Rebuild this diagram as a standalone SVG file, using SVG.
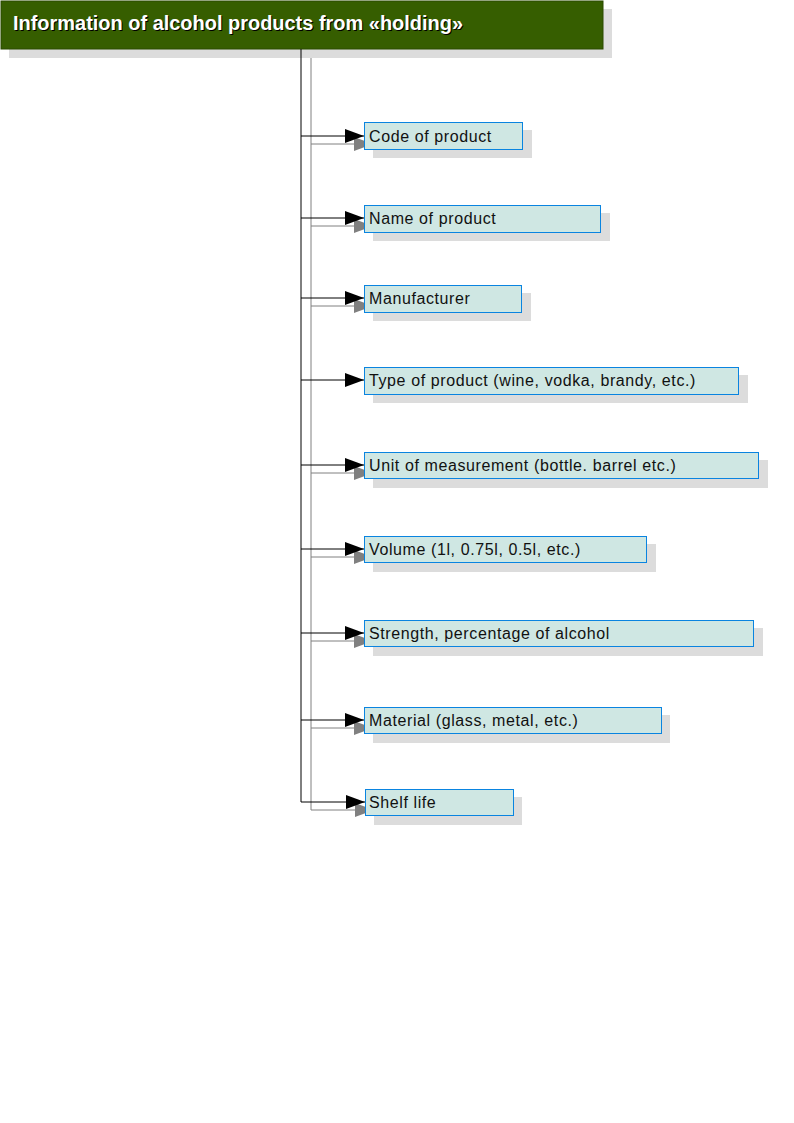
<svg xmlns="http://www.w3.org/2000/svg" width="794" height="1123" viewBox="0 0 794 1123">
<defs>
<style>
.shadow{fill:#DCDCDC}
.box{fill:#CFE7E3;stroke:#0A84E0;stroke-width:1}
.lbl{font-family:"Liberation Sans",Arial,sans-serif;font-size:16px;letter-spacing:0.6px;fill:#111}
.ttl{font-family:"Liberation Sans",Arial,sans-serif;font-size:20px;font-weight:bold}
.ln{fill:none;stroke:#000;stroke-width:1}
.lng{fill:none;stroke:#808080;stroke-width:1}
</style>
<marker id="ah" markerWidth="19" markerHeight="14" refX="19" refY="7" orient="auto" markerUnits="userSpaceOnUse"><path d="M0,0 L19,7 L0,14 Z" fill="#000"/></marker>
<marker id="ahg" markerWidth="19" markerHeight="14" refX="19" refY="7" orient="auto" markerUnits="userSpaceOnUse"><path d="M0,0 L19,7 L0,14 Z" fill="#808080"/></marker>
</defs>
<rect width="794" height="1123" fill="#fff"/>
<g id="header">
<rect class="shadow" x="9" y="9" width="603" height="49"/>
<rect x="1" y="1" width="602" height="48" fill="#365E00" stroke="#2A4A00"/>
<text class="ttl" x="14" y="31" fill="#000" textLength="450" lengthAdjust="spacingAndGlyphs">Information of alcohol products from «holding»</text>
<text class="ttl" x="13" y="30" fill="#fff" textLength="450" lengthAdjust="spacingAndGlyphs">Information of alcohol products from «holding»</text>
</g>
<g id="connectors">
<path class="lng" d="M311,58 V810"/>
<path class="lng" d="M311,144 H373" marker-end="url(#ahg)"/>
<path class="lng" d="M311,226 H373" marker-end="url(#ahg)"/>
<path class="lng" d="M311,306 H373" marker-end="url(#ahg)"/>
<path class="lng" d="M311,473 H373" marker-end="url(#ahg)"/>
<path class="lng" d="M311,557 H373" marker-end="url(#ahg)"/>
<path class="lng" d="M311,641 H373" marker-end="url(#ahg)"/>
<path class="lng" d="M311,728 H373" marker-end="url(#ahg)"/>
<path class="lng" d="M311,810 H374" marker-end="url(#ahg)"/>
<path class="ln" d="M301,49 V802"/>
<path class="ln" d="M301,136 H364" marker-end="url(#ah)"/>
<path class="ln" d="M301,218 H364" marker-end="url(#ah)"/>
<path class="ln" d="M301,298 H364" marker-end="url(#ah)"/>
<path class="ln" d="M301,380 H364" marker-end="url(#ah)"/>
<path class="ln" d="M301,465 H364" marker-end="url(#ah)"/>
<path class="ln" d="M301,549 H364" marker-end="url(#ah)"/>
<path class="ln" d="M301,633 H364" marker-end="url(#ah)"/>
<path class="ln" d="M301,720 H364" marker-end="url(#ah)"/>
<path class="ln" d="M301,802 H365" marker-end="url(#ah)"/>
</g>
<g id="n1"><rect class="shadow" x="373" y="130" width="159" height="28"/><rect class="box" x="364.5" y="122.5" width="158" height="27"/><text class="lbl" x="369" y="142">Code of product</text></g>
<g id="n2"><rect class="shadow" x="373" y="213" width="237" height="28"/><rect class="box" x="364.5" y="205.5" width="236" height="27"/><text class="lbl" x="369" y="224">Name of product</text></g>
<g id="n3"><rect class="shadow" x="373" y="293" width="158" height="28"/><rect class="box" x="364.5" y="285.5" width="157" height="27"/><text class="lbl" x="369" y="304">Manufacturer</text></g>
<g id="n4"><rect class="shadow" x="373" y="375" width="375" height="28"/><rect class="box" x="364.5" y="367.5" width="374" height="27"/><text class="lbl" x="369" y="386">Type of product (wine, vodka, brandy, etc.)</text></g>
<g id="n5"><rect class="shadow" x="373" y="460" width="395" height="28"/><rect class="box" x="364.5" y="452.5" width="394" height="26"/><text class="lbl" x="369" y="471">Unit of measurement (bottle. barrel etc.)</text></g>
<g id="n6"><rect class="shadow" x="373" y="544" width="283" height="28"/><rect class="box" x="364.5" y="536.5" width="282" height="26"/><text class="lbl" x="369" y="555">Volume (1l, 0.75l, 0.5l, etc.)</text></g>
<g id="n7"><rect class="shadow" x="373" y="628" width="390" height="28"/><rect class="box" x="364.5" y="620.5" width="389" height="26"/><text class="lbl" x="369" y="639">Strength, percentage of alcohol</text></g>
<g id="n8"><rect class="shadow" x="373" y="715" width="297" height="28"/><rect class="box" x="364.5" y="707.5" width="297" height="26"/><text class="lbl" x="369" y="726">Material (glass, metal, etc.)</text></g>
<g id="n9"><rect class="shadow" x="374" y="797" width="148" height="28"/><rect class="box" x="365.5" y="789.5" width="148" height="26"/><text class="lbl" x="369" y="808">Shelf life</text></g>
</svg>
